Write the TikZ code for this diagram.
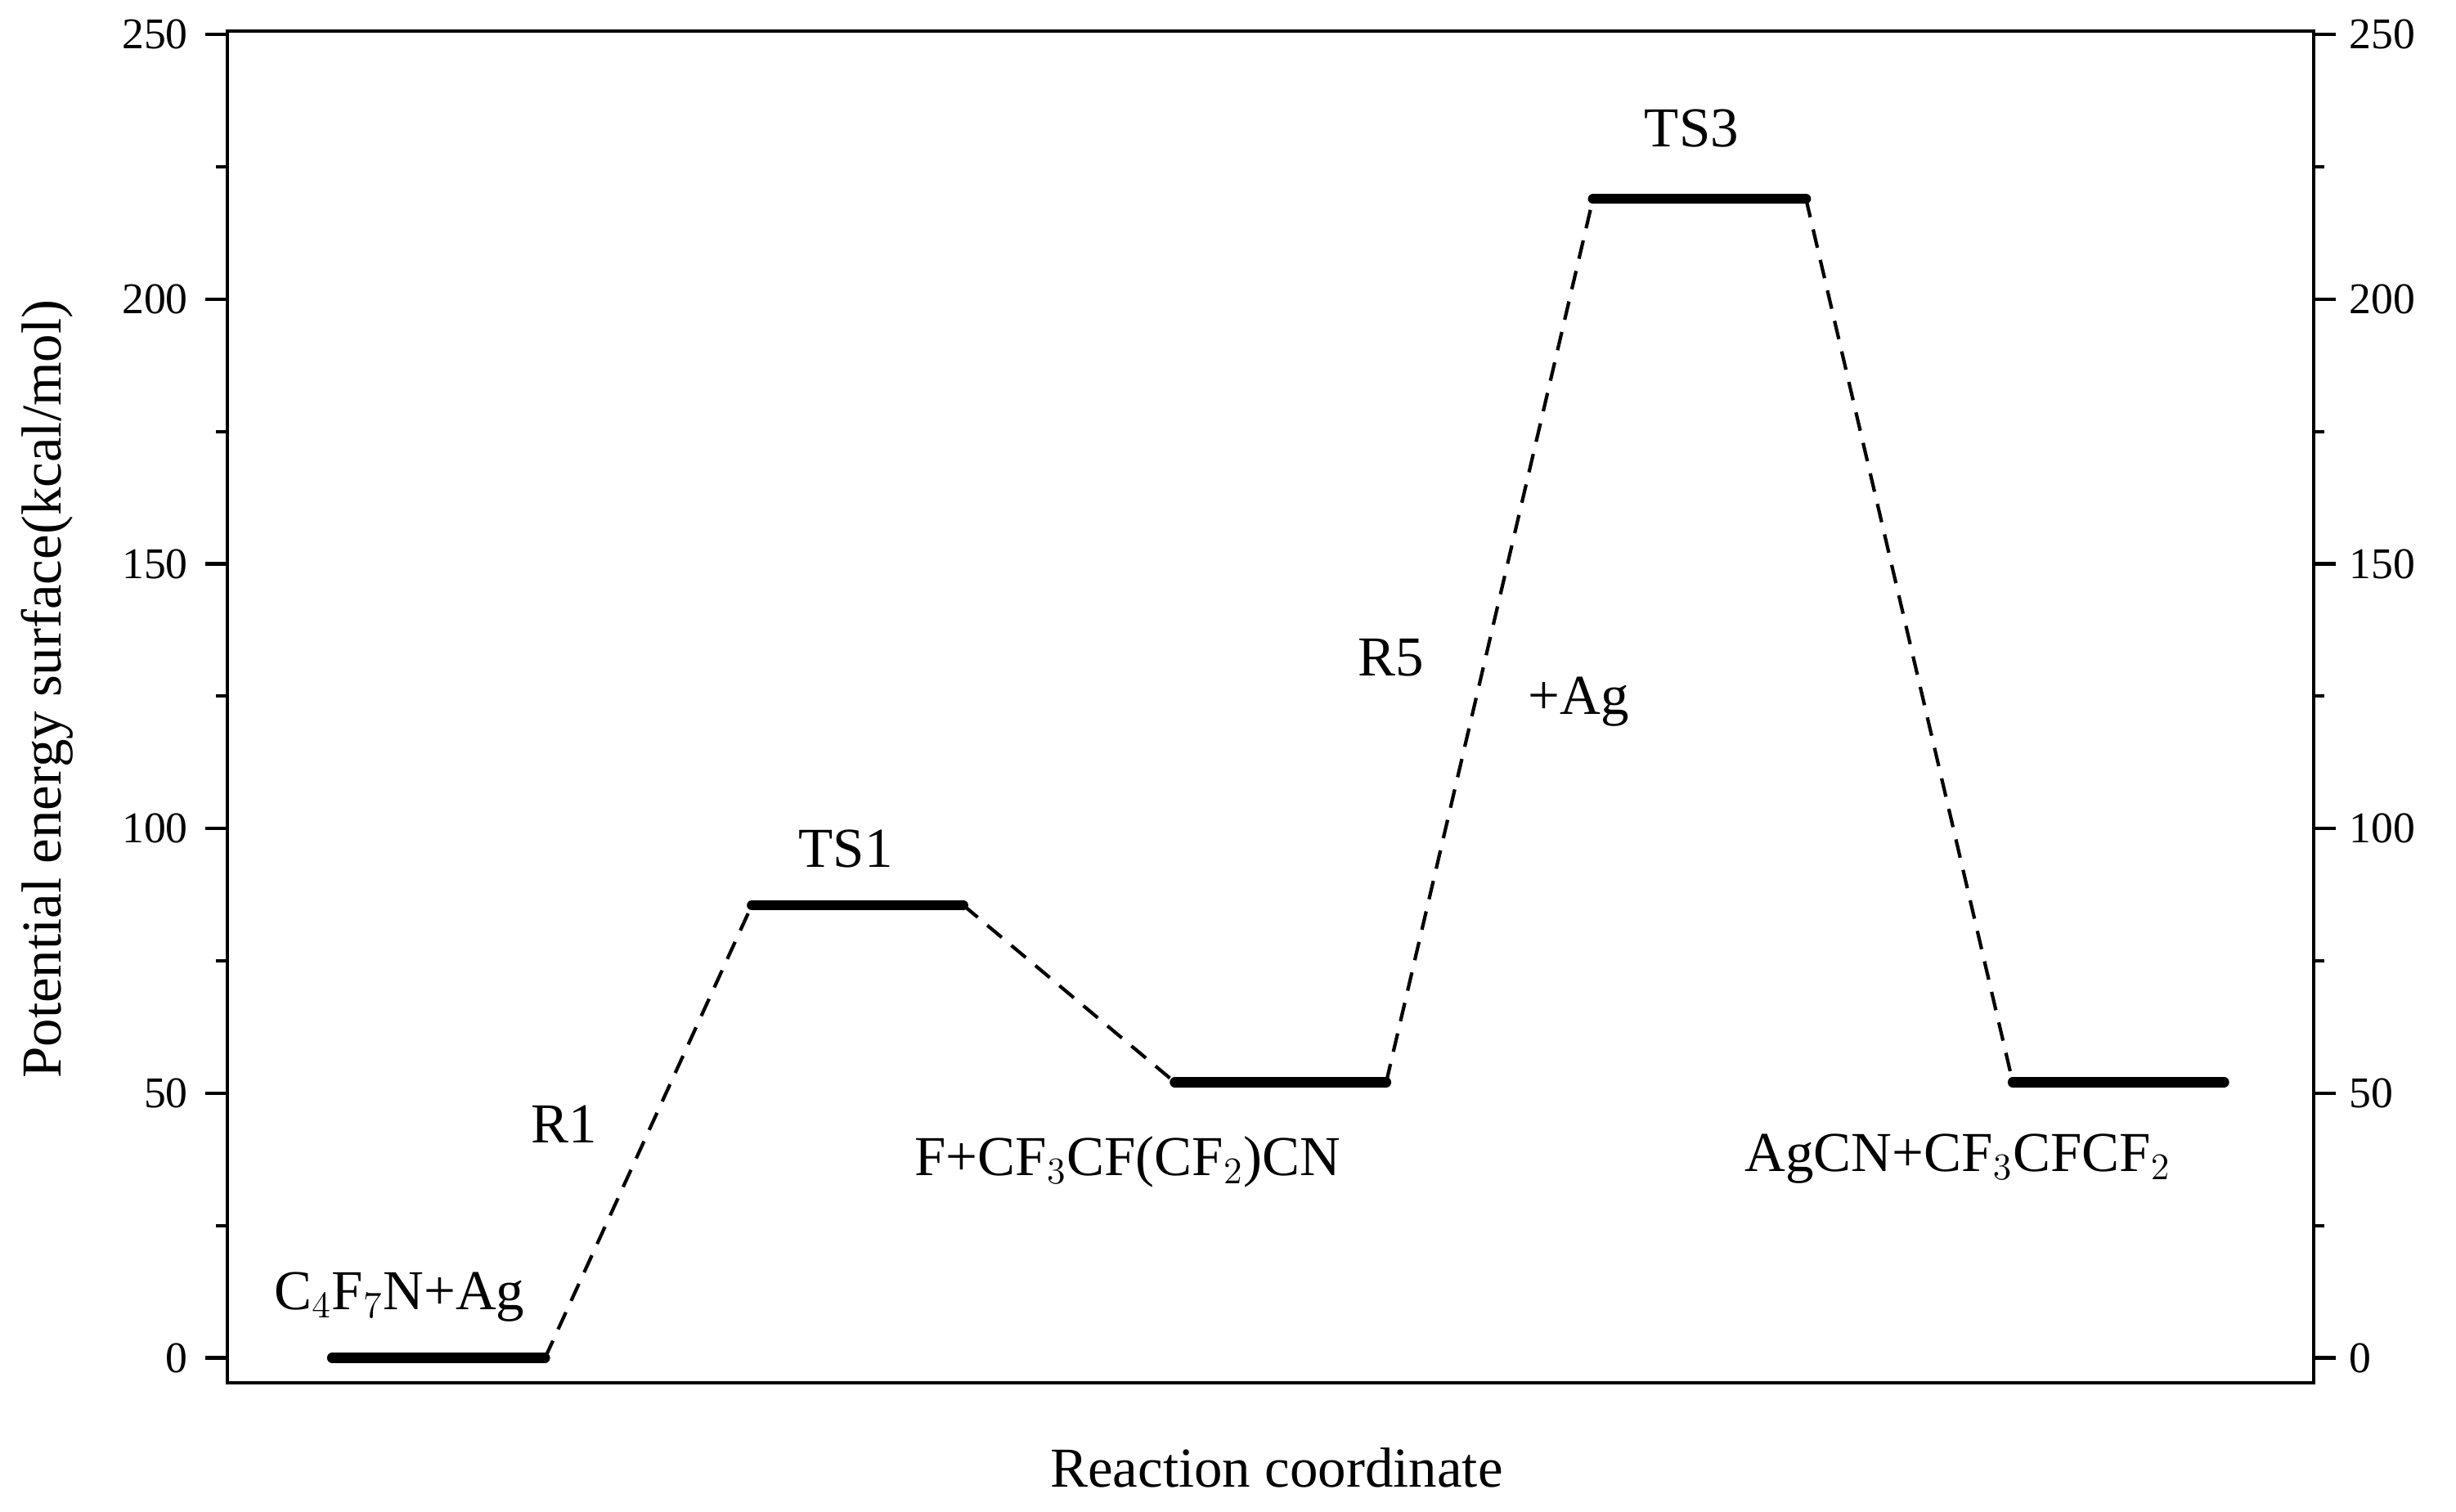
\documentclass[tikz,border=0pt]{standalone}
\usepackage{fontspec}
\setmainfont{Liberation Serif}
\begin{document}
\begin{tikzpicture}[x=0.5pt,y=-0.5pt,
  lvl/.style={line width=3.2pt,line cap=round},
  conn/.style={line width=1.1pt,dash pattern=on 6pt off 4pt},
  lab/.style={font=\fontsize{18}{20}\selectfont},
  tl/.style={font=\fontsize{14}{16}\selectfont}]
\useasboundingbox (0,0) rectangle (1568,965);
\draw[line width=1.1pt] (145,20) rectangle (1477,883);
\foreach \v in {0,50,...,250}{
  \pgfmathsetmacro\yy{867-\v*3.38}
  \draw[line width=1.1pt] (131,\yy) -- (145,\yy);
  \draw[line width=1.1pt] (1477,\yy) -- (1491,\yy);
  \node[tl,anchor=east] at (127,\yy) {\v};
  \node[tl,anchor=west] at (1493,\yy) {\v};
}
\foreach \v in {25,75,...,225}{
  \pgfmathsetmacro\yy{867-\v*3.38}
  \draw[line width=1.1pt] (138,\yy) -- (145,\yy);
  \draw[line width=1.1pt] (1477,\yy) -- (1484,\yy);
}
\coordinate (a1) at (212,867); \coordinate (a2) at (348,867);
\coordinate (b1) at (480,578); \coordinate (b2) at (615,578);
\coordinate (c1) at (750,691); \coordinate (c2) at (885,691);
\coordinate (d1) at (1017,127); \coordinate (d2) at (1153,127);
\coordinate (e1) at (1285,691); \coordinate (e2) at (1420,691);
\foreach \p/\q in {a1/a2,b1/b2,c1/c2,d1/d2,e1/e2} \draw[lvl] (\p) -- (\q);
\draw[conn] (a2) -- (b1);
\draw[conn] (b2) -- (c1);
\draw[conn] (c2) -- (d1);
\draw[conn] (d2) -- (e1);
\node[lab] (l1) at (255,828) {C$_4$F$_7$N+Ag};
\node[lab] (l2) at (360,718) {R1};
\node[lab] (l3) at (540,542) {TS1};
\node[lab] (l4) at (720,742) {F+CF$_3$CF(CF$_2$)CN};
\node[lab] (l5) at (888,420) {R5};
\node[lab] (l6) at (1008,448) {+Ag};
\node[lab] (l7) at (1080,82) {TS3};
\node[lab] (l8) at (1250,740) {AgCN+CF$_3$CFCF$_2$};
\node[lab,rotate=90] (ya) at (30,440) {Potential energy surface(kcal/mol)};
\node[lab] (xa) at (815,937) {Reaction coordinate};
\end{tikzpicture}
\end{document}
